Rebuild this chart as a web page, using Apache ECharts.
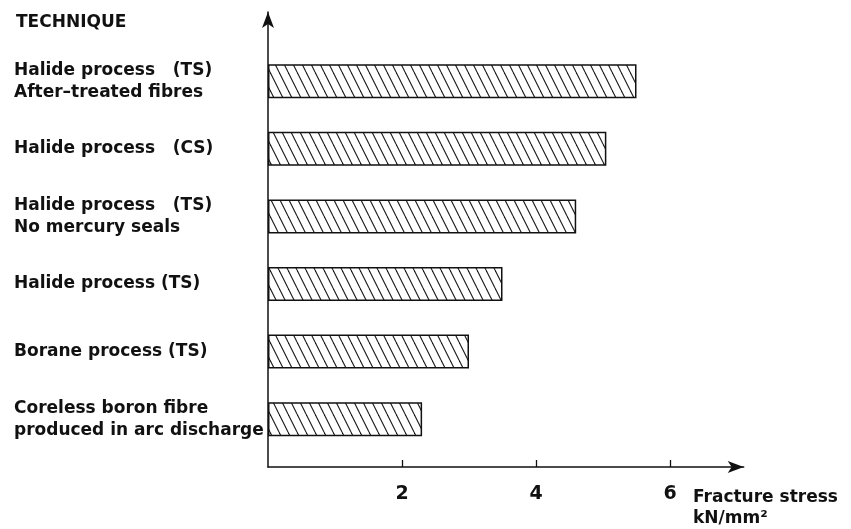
<!DOCTYPE html>
<html>
<head>
<meta charset="utf-8">
<script src="https://cdn.jsdelivr.net/npm/echarts@6/dist/echarts.min.js"></script>
<style>
  html, body { margin: 0; padding: 0; background: #fff; }
  #chart { width: 851px; height: 529px; }
</style>
</head>
<body>
<div id="chart"></div>
<script>
// Data
const categories = [
  'Halide process   (TS)\nAfter\u2013treated fibres',
  'Halide process   (CS)',
  'Halide process   (TS)\nNo mercury seals',
  'Halide process (TS)',
  'Borane process (TS)',
  'Coreless boron fibre\nproduced in arc discharge'
];
const fractureStress = [5.5, 5.05, 4.6, 3.5, 3.0, 2.3];
const axisMin = 0;
const axisMax = 7.1;
const axisInterval = 2;
const yTitle = 'TECHNIQUE';
const xTitle = 'Fracture stress\nkN/mm\u00B2';

// Hatch pattern (diagonal lines, top-left to bottom-right)
function makeHatch() {
  const w = 9, h = 18;
  const c = document.createElement('canvas');
  c.width = w; c.height = h;
  const g = c.getContext('2d');
  g.fillStyle = '#ffffff';
  g.fillRect(0, 0, w, h);
  g.strokeStyle = '#1a1a1a';
  g.lineWidth = 1.1;
  for (let k = -1; k <= 1; k++) {
    g.beginPath();
    g.moveTo(k * w, 0);
    g.lineTo(k * w + w, h);
    g.stroke();
  }
  return c;
}

const FONT = '"DejaVu Sans", "Liberation Sans", Arial, sans-serif';
const INK = '#111111';

const chart = echarts.init(document.getElementById('chart'), null, { renderer: 'canvas' });

const option = {
  backgroundColor: '#ffffff',
  animation: false,
  title: {
    text: yTitle,
    left: 16,
    top: 14,
    padding: 0,
    textStyle: { fontFamily: FONT, fontSize: 17, fontWeight: 'bold', color: INK }
  },
  grid: [
    { left: 268, width: 475.7, top: 47.4, height: 405.6, containLabel: false, outerBoundsMode: 'none' },
    { left: 268, width: 475.7, top: 12, height: 455, containLabel: false, outerBoundsMode: 'none' }
  ],
  xAxis: [
    {
      gridIndex: 0, type: 'value', min: axisMin, max: axisMax, show: false
    },
    {
      gridIndex: 1, type: 'value', min: axisMin, max: axisMax, interval: axisInterval,
      axisLine: { show: true, symbol: ['none', 'arrow'], symbolSize: [9, 16],
        lineStyle: { color: INK, width: 1.5 } },
      axisTick: { show: true, inside: true, length: 7, lineStyle: { color: INK, width: 1.3 } },
      splitLine: { show: false },
      axisLabel: {
        show: true, margin: 18, showMinLabel: false, showMaxLabel: false,
        fontFamily: FONT, fontSize: 19, fontWeight: 'bold', color: INK,
        formatter: function (v) { return v === 0 ? '' : String(v); }
      },
      name: xTitle,
      nameLocation: 'end',
      nameGap: -50.7,
      nameTextStyle: {
        fontFamily: FONT, fontSize: 17, fontWeight: 'bold', color: INK,
        align: 'left', verticalAlign: 'top', lineHeight: 21, padding: [20, 0, 0, 0]
      }
    }
  ],
  yAxis: [
    {
      gridIndex: 0, type: 'category', data: categories, inverse: true,
      axisLine: { show: false }, axisTick: { show: false }, splitLine: { show: false },
      axisLabel: {
        align: 'left', margin: 254,
        fontFamily: FONT, fontSize: 17, fontWeight: 'bold', color: INK, lineHeight: 22
      }
    },
    {
      gridIndex: 1, type: 'value', min: 0, max: 1,
      axisLine: { show: true, symbol: ['none', 'arrow'], symbolSize: [9, 16],
        lineStyle: { color: INK, width: 1.5 } },
      axisTick: { show: false }, axisLabel: { show: false }, splitLine: { show: false }
    }
  ],
  series: [
    {
      type: 'bar',
      xAxisIndex: 0, yAxisIndex: 0,
      data: fractureStress,
      barWidth: 34,
      itemStyle: {
        color: { image: makeHatch(), repeat: 'repeat' },
        borderColor: INK,
        borderWidth: 1.5
      },
      silent: true
    }
  ]
};

chart.setOption(option);
</script>
</body>
</html>
